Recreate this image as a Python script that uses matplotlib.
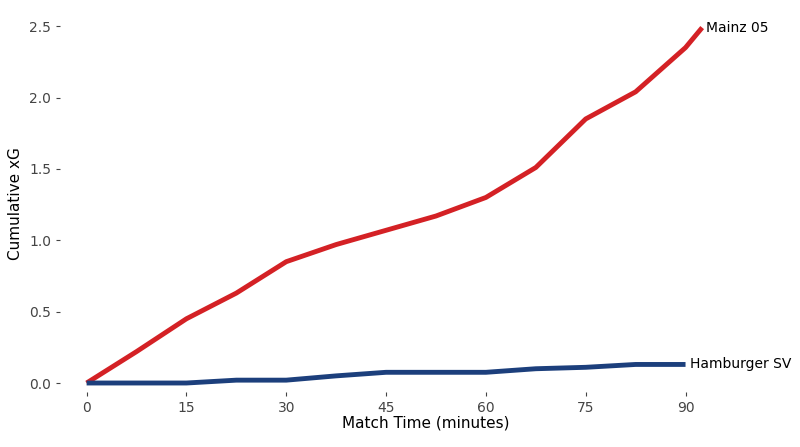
import matplotlib
matplotlib.use("Agg")
import matplotlib.pyplot as plt

mainz_t = [0, 7.5, 15, 22.5, 30, 37.5, 45, 52.5, 60, 67.5, 75, 82.5, 90, 92.5]
mainz_xg = [0, 0.22, 0.45, 0.63, 0.85, 0.97, 1.07, 1.17, 1.30, 1.51, 1.85, 2.04, 2.35, 2.49]
hsv_t = [0, 7.5, 15, 22.5, 30, 37.5, 45, 52.5, 60, 67.5, 75, 82.5, 90]
hsv_xg = [0, 0, 0, 0.02, 0.02, 0.05, 0.075, 0.075, 0.075, 0.10, 0.11, 0.13, 0.13]

fig, ax = plt.subplots(figsize=(8, 4.47), dpi=100)
fig.subplots_adjust(left=0.075, right=0.99, top=0.967, bottom=0.124)

ax.plot(mainz_t, mainz_xg, color="#d42125", lw=3.5, solid_capstyle="butt")
ax.plot(hsv_t, hsv_xg, color="#1c3f7c", lw=3.5, solid_capstyle="butt")
ax.text(mainz_t[-1] + 0.6, mainz_xg[-1], "Mainz 05", va="center", fontsize=10)
ax.text(hsv_t[-1] + 0.6, hsv_xg[-1], "Hamburger SV", va="center", fontsize=10)

ax.set_xlim(-4, 106)
ax.set_ylim(-0.06, 2.58)
ax.set_xticks([0, 15, 30, 45, 60, 75, 90])
ax.set_yticks([0, 0.5, 1.0, 1.5, 2.0, 2.5])
ax.set_yticklabels(["0.0", "0.5", "1.0", "1.5", "2.0", "2.5"])
for s in ax.spines.values():
    s.set_visible(False)
ax.tick_params(colors="#444444", labelsize=10, length=3)
ax.set_xlabel("Match Time (minutes)", fontsize=11, labelpad=1)
ax.set_ylabel("Cumulative xG", fontsize=11)

fig.savefig("out.png")
